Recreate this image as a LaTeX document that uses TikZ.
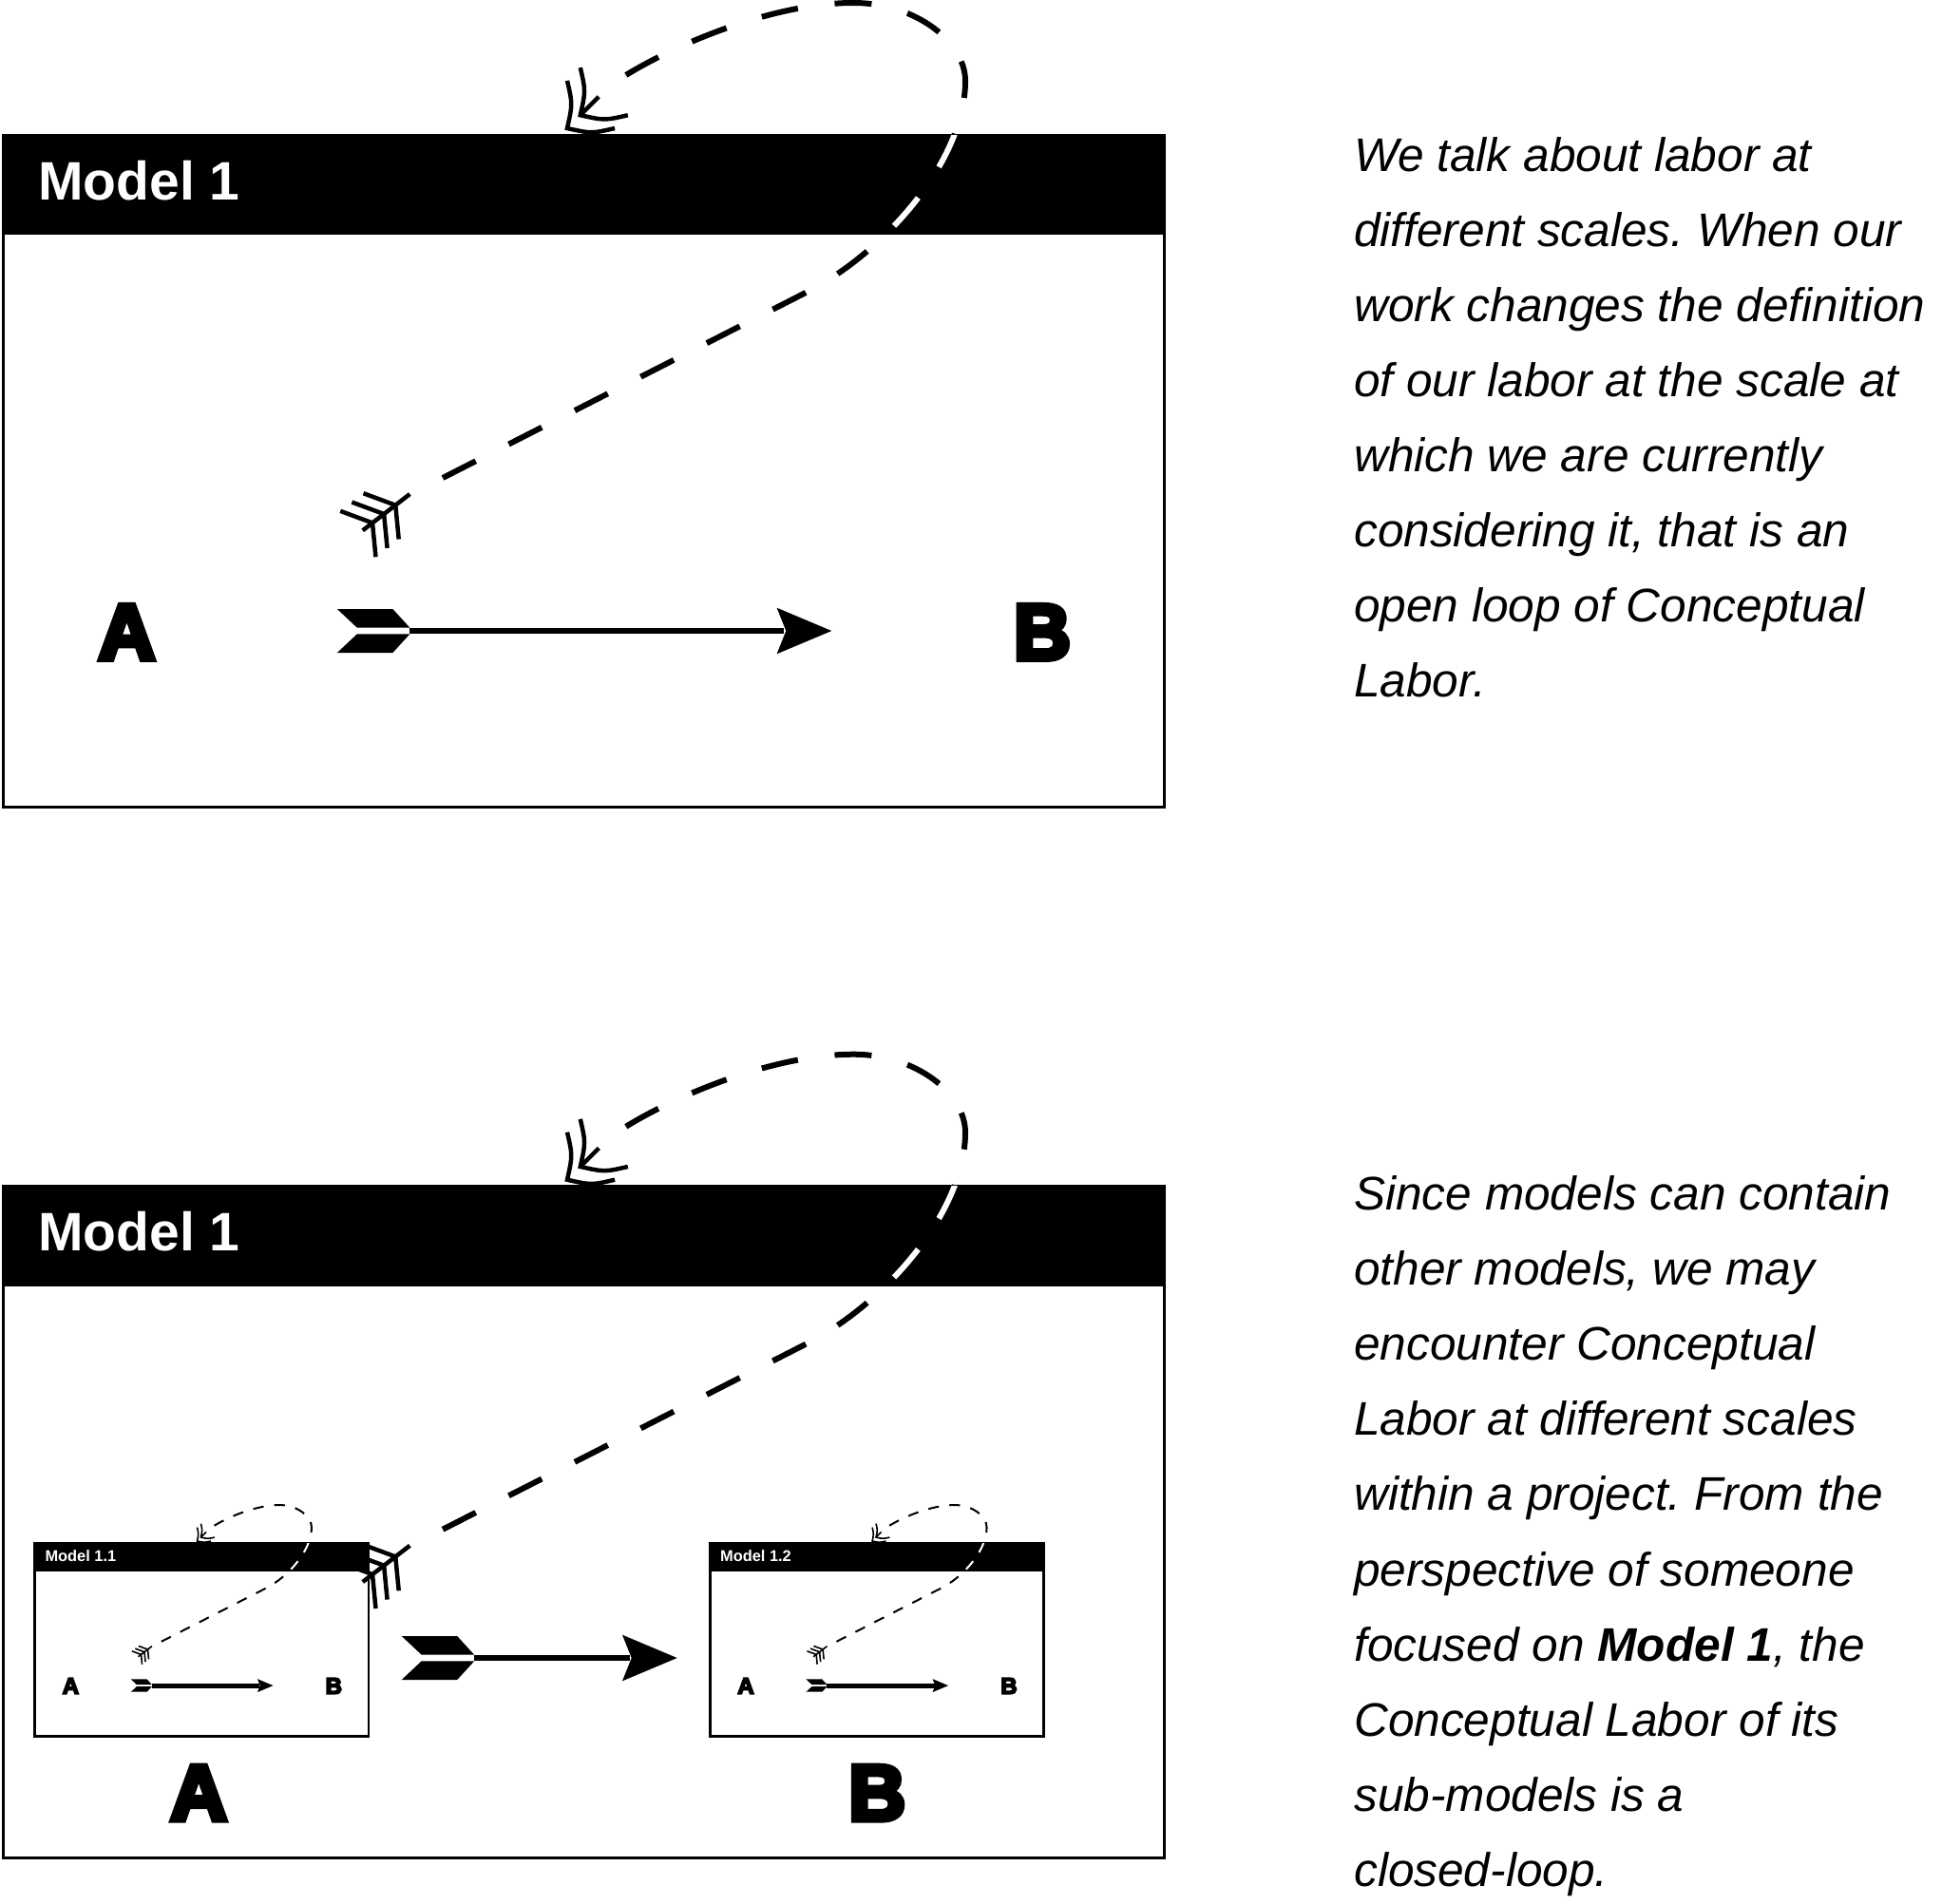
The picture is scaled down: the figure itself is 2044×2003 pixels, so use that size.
\documentclass[tikz,border=0pt]{standalone}
\usepackage{fontspec}
\setmainfont{Liberation Sans}
\newfontfamily\heavyfont[BoldFeatures={FakeBold=7}]{Liberation Sans}
\frenchspacing

\newcommand\setmain{\def\LWbox{3pt}\def\LWdash{6pt}\def\DashOn{39pt}\def\DashOff{39pt}%
  \def\LWbarb{4.5pt}\def\LWshaft{6.7pt}\def\FSlabel{57}\def\FSab{83}}
\newcommand\setsub{\def\LWbox{2.5pt}\def\LWdash{2pt}\def\DashOn{11.2pt}\def\DashOff{11.2pt}%
  \def\LWbarb{1.6pt}\def\LWshaft{4.8pt}\def\FSlabel{16.4}\def\FSab{24}}
\setmain

\tikzset{
  labeltext/.style={anchor=base west, inner sep=0pt, text=white,
    font=\fontsize{\FSlabel}{\FSlabel}\selectfont\bfseries},
  abtext/.style={anchor=base west, inner sep=0pt,
    font=\heavyfont\bfseries\fontsize{\FSab}{\FSab}\selectfont},
  bodytext/.style={anchor=base west, inner sep=0pt,
    font=\fontsize{49.6}{79}\selectfont\itshape},
  loopdash/.style={line width=\LWdash, dash pattern=on \DashOn off \DashOff, line cap=butt},
  fletch/.pic={
    \draw[line width=\LWbarb] (0,0) -- (62.7,0);
    \foreach \s in {13,28.3,43.6}{
      \draw[line width=\LWbarb] (\s,0) -- ({\s-19.1},30.5);
      \draw[line width=\LWbarb] (\s,0) -- ({\s-19.1},-30.5);
    }
  },
  dblhead/.pic={
    \draw[line width=\LWbarb, line join=miter]
      (-35.4,-35.4) .. controls (-14,-22) .. (0,0) .. controls (-22,14) .. (-35.4,35.4);
    \draw[line width=\LWbarb, line join=miter]
      (-54.9,-35.4) .. controls (-33.5,-22) .. (-19.5,0) .. controls (-41.5,14) .. (-54.9,35.4);
    \draw[line width=\LWbarb] (-19.5,0) -- (-47,0);
  },
  chevtail/.pic={
    \fill (0,-23) -- (58.5,-23) -- (76.5,-3.3) -- (21,-3.3) -- cycle;
    \fill (0,23) -- (58.5,23) -- (76.5,3.3) -- (21,3.3) -- cycle;
  },
  stealthhead/.pic={
    \fill (0,0) -- (-57.7,-24.3) -- (-48,0) -- (-57.7,24.3) -- cycle;
  },
}

% frame: box, header, label
\newcommand\modelframe[2]{%
  \coordinate (#1-nw) at (0,0);
  \coordinate (#1-se) at (1222,707);
  \coordinate (#1-hse) at (1222,105);
  \fill[white] (#1-nw) rectangle (#1-se);
  \fill[black] (#1-nw) rectangle (#1-hse);
  \draw[line width=\LWbox] (#1-nw) rectangle (#1-se);
  \node[labeltext] (#1-label) at (37,68) {#2};
}

% straight arrow: prefix, tail x, tip x, y
\newcommand\straightarrow[4]{%
  \coordinate (#1-tail) at (#2,#4);
  \coordinate (#1-tip) at (#3,#4);
  \coordinate (#1-from) at ({#2+76.5},#4);
  \coordinate (#1-to) at ({#3-50},#4);
  \draw[line width=\LWshaft] (#1-from) -- (#1-to);
  \pic[transform shape] at (#1-tail) {chevtail};
  \pic[transform shape] at (#1-tip) {stealthhead};
}

\newcommand\modelAB[1]{%
  \node[abtext] (#1-A) at (100.3,552) {A};
  \node[abtext] (#1-B) at (1063.7,552) {B};
  \straightarrow{#1-ar}{351.9}{872.3}{522}
}

\newcommand\modelloop[1]{%
  \coordinate (#1-s) at (463,361);
  \coordinate (#1-q) at (847,165);
  \coordinate (#1-r) at (1013,-57);
  \coordinate (#1-t) at (895,-139);
  \coordinate (#1-e) at (626,-41);
  \draw[loopdash] (#1-s) -- (#1-q) .. controls (927,124) and (1013,28) .. (#1-r)
     .. controls (1013,-97) and (962,-139) .. (#1-t)
     .. controls (790,-139) and (656,-71) .. (#1-e);
  \begin{scope}
    \clip (#1-nw) rectangle (#1-hse);
    \draw[loopdash, white] (#1-s) -- (#1-q) .. controls (927,124) and (1013,28) .. (#1-r)
       .. controls (1013,-97) and (962,-139) .. (#1-t)
       .. controls (790,-139) and (656,-71) .. (#1-e);
  \end{scope}
  \pic[rotate=37.6, transform shape] at (378.7,416.3) {fletch};
  \pic[rotate=225, transform shape] at (594,-7) {dblhead};
}

\begin{document}
\begin{tikzpicture}[x=1pt,y=-1pt]
\useasboundingbox (0,0) rectangle (2044,2003);
\fill[white] (0,0) rectangle (2044,2003);

% ---------- top panel ----------
\begin{scope}[shift={(3,142)}]
  \modelframe{mA}{Model 1}
  \modelAB{mA}
  \modelloop{mA}
\end{scope}

% ---------- bottom panel ----------
\begin{scope}[shift={(3,1248.7)}]
  \modelframe{mB}{Model 1}
  \begin{scope}[shift={(33.7,375.3)}, scale=0.2875]
    \setsub
    \modelframe{sa}{Model 1.1}
    \modelAB{sa}
    \modelloop{sa}
  \end{scope}
  \begin{scope}[shift={(744.3,375.3)}, scale=0.2875]
    \setsub
    \modelframe{sb}{Model 1.2}
    \modelAB{sb}
    \modelloop{sb}
  \end{scope}
  \straightarrow{mB-ar}{419.7}{709.7}{496.3}
  \node[abtext] (mB-A) at (176,667) {A};
  \node[abtext] (mB-B) at (890,667) {B};
  \modelloop{mB}
\end{scope}

% ---------- texts ----------
\foreach \t [count=\i] in {We talk about labor at, different scales. When our,
  work changes the definition, of our labor at the scale at, which we are currently,
  {considering it, that is an}, open loop of Conceptual, Labor.}{
  \node[bodytext] (p1-\i) at (1425,{180+79*(\i-1)}) {\t};
}
\foreach \t [count=\i] in {Since models can contain, {other models, we may},
  encounter Conceptual, Labor at different scales, within a project. From the,
  perspective of someone, {focused on \textbf{Model 1}, the}, Conceptual Labor of its,
  sub-models is a, closed-loop.}{
  \node[bodytext] (p2-\i) at (1425,{1273+79.2*(\i-1)}) {\t};
}
\end{tikzpicture}
\end{document}
